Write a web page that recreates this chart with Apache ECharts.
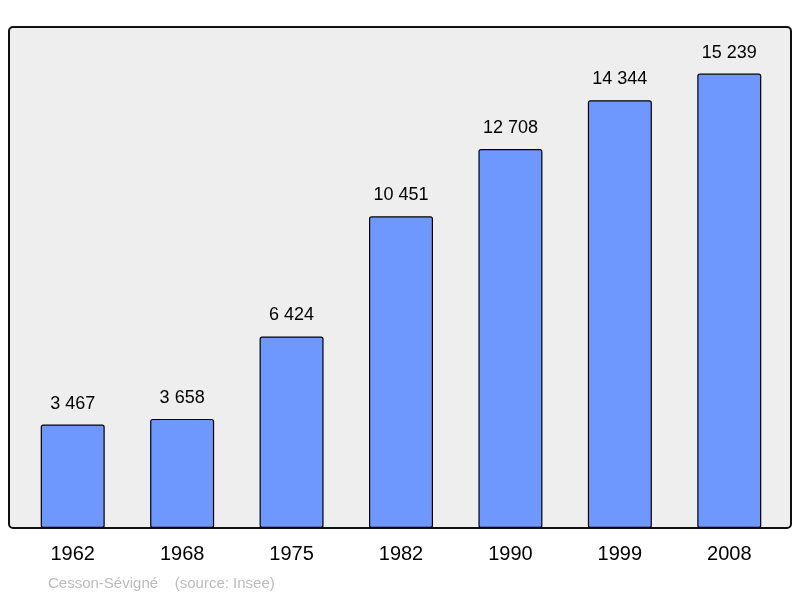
<!DOCTYPE html>
<html><head><meta charset="utf-8">
<script src="https://cdn.jsdelivr.net/npm/echarts@6/dist/echarts.min.js"></script>
<style>html,body{margin:0;padding:0;background:#fff}#c{width:800px;height:598px}</style>
</head><body><div id="c"></div>
<script>
const categories = ['1962','1968','1975','1982','1990','1999','2008'];
const population = [3467,3658,6424,10451,12708,14344,15239];
const chart = echarts.init(document.getElementById('c'));
const fmt = v => String(v).replace(/\B(?=(\d{3})+(?!\d))/g, ' ');
chart.setOption({
  animation:false,
  graphic:[
    {type:'rect',z:-1,shape:{x:9,y:27,width:782,height:501,r:4},style:{fill:'#eeeeee',stroke:'#111',lineWidth:2}},
    {type:'text',left:48,top:576,style:{text:'Cesson-Sévigné    (source: Insee)',fill:'#bbbbbb',font:'15px "Liberation Sans", Arial, sans-serif'}}
  ],
  grid:{left:18,right:16,top:27,bottom:70},
  xAxis:{type:'category',data:categories,axisLine:{show:false},axisTick:{show:false},
    axisLabel:{fontSize:20,color:'#000',fontFamily:'Liberation Sans',margin:16}},
  yAxis:{type:'value',min:0,max:16800,show:false,splitLine:{show:false}},
  series:[{type:'bar',data:population,barWidth:64,
    itemStyle:{color:'#6f98ff',borderColor:'#000',borderWidth:1.2,borderRadius:2},
    label:{show:true,position:'top',distance:12,fontSize:18,color:'#000',fontFamily:'Liberation Sans',formatter:p=>fmt(p.value)}}]
});
</script></body></html>
